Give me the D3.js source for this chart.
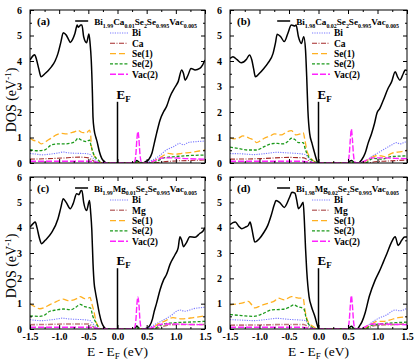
<!DOCTYPE html>
<html><head><meta charset="utf-8">
<script src="https://cdn.jsdelivr.net/npm/d3@7"></script>
<style>
html,body{margin:0;padding:0;background:#fff;}
svg{display:block;}
text{font-family:"Liberation Serif","Times New Roman",serif;}
</style></head>
<body>
<svg id="chart" width="416" height="359"></svg>
<script>
// ---------------- data ----------------
const xTickValues = [-1.5,-1.0,-0.5,0.0,0.5,1.0,1.5];
const xTickLabels = ["-1.5","-1.0","-0.5","0.0","0.5","1.0","1.5"];
const yTickValues = [0,1,2,3,4,5,6];
const yTickLabels = ["0","1","2","3","4","5","6"];
const panelLetters = ["(a)","(b)","(c)","(d)"];
const seriesNamesCa = ["Bi","Ca","Se(1)","Se(2)","Vac(2)"];
const seriesNamesMg = ["Bi","Mg","Se(1)","Se(2)","Vac(2)"];

// panel (a) Bi1.99Ca0.01
const totalA = [[-1.5,4.04],[-1.45,4.2],[-1.42,4.25],[-1.39,4.07],[-1.35,3.7],[-1.31,3.38],[-1.25,3.49],[-1.19,3.62],[-1.13,3.78],[-1.07,4.0],[-1.02,4.3],[-0.97,4.75],[-0.93,5.11],[-0.88,5.02],[-0.84,4.85],[-0.81,4.73],[-0.77,4.85],[-0.73,5.08],[-0.69,5.41],[-0.67,5.32],[-0.63,5.41],[-0.61,5.41],[-0.58,4.95],[-0.53,4.72],[-0.49,5.06],[-0.47,4.69],[-0.45,4.04],[-0.43,2.73],[-0.42,1.8],[-0.4,1.3],[-0.37,1.0],[-0.35,0.84],[-0.31,0.44],[-0.27,0.18],[-0.22,0.05],[-0.2,0],[0.28,0],[0.31,0.06],[0.33,0.1],[0.36,0.05],[0.39,0],[0.44,0],[0.48,0.05],[0.53,0.12],[0.59,0.38],[0.63,0.77],[0.67,1.16],[0.73,1.69],[0.79,2.01],[0.84,2.21],[0.9,2.6],[0.99,2.99],[1.04,3.19],[1.1,3.65],[1.13,3.52],[1.16,3.25],[1.21,3.45],[1.26,3.71],[1.33,3.65],[1.41,3.71],[1.46,3.85],[1.5,4.04]];
const biA = [[-1.5,0.37],[-1.4,0.35],[-1.3,0.32],[-1.15,0.35],[-1.0,0.4],[-0.93,0.43],[-0.85,0.4],[-0.7,0.38],[-0.55,0.37],[-0.47,0.33],[-0.42,0.2],[-0.35,0.07],[-0.28,0],[0.45,0],[0.53,0.05],[0.7,0.25],[0.84,0.51],[0.96,0.64],[1.07,0.77],[1.13,0.71],[1.21,0.8],[1.36,0.84],[1.5,0.86]];
const dopA = [[-1.5,0.15],[-1.2,0.17],[-0.9,0.2],[-0.65,0.23],[-0.5,0.2],[-0.42,0.1],[-0.35,0],[0.6,0],[0.75,0.04],[1.0,0.08],[1.25,0.1],[1.5,0.12]];
const se1A = [[-1.5,0.97],[-1.45,0.9],[-1.36,0.84],[-1.31,0.75],[-1.25,0.8],[-1.19,0.9],[-1.12,1.0],[-1.05,1.1],[-0.96,1.16],[-0.88,1.14],[-0.79,1.19],[-0.73,1.23],[-0.68,1.29],[-0.63,1.22],[-0.59,1.19],[-0.53,1.19],[-0.48,1.29],[-0.46,1.1],[-0.45,0.7],[-0.42,0.38],[-0.36,0.18],[-0.31,0.05],[-0.25,0],[0.5,0],[0.6,0.05],[0.68,0.15],[0.76,0.25],[0.87,0.38],[0.99,0.34],[1.1,0.38],[1.27,0.42],[1.4,0.47],[1.5,0.51]];
const se2A = [[-1.5,0.52],[-1.36,0.48],[-1.25,0.51],[-1.13,0.71],[-1.02,0.75],[-0.9,0.75],[-0.82,0.77],[-0.73,0.84],[-0.68,0.97],[-0.62,0.9],[-0.53,0.84],[-0.48,0.9],[-0.45,0.64],[-0.39,0.25],[-0.33,0.12],[-0.28,0],[0.28,0],[0.33,0.05],[0.38,0],[0.6,0],[0.7,0.1],[0.81,0.21],[0.99,0.25],[1.21,0.29],[1.5,0.31]];
const vacA = [[-1.5,0.07],[-0.5,0.07],[-0.4,0.05],[-0.3,0.01],[0.25,0],[0.29,0.04],[0.315,0.35],[0.333,0.95],[0.35,1.23],[0.367,0.95],[0.385,0.35],[0.41,0.04],[0.45,0],[0.55,0.02],[0.62,0.08],[0.7,0.15],[0.78,0.2],[0.95,0.2],[1.2,0.17],[1.5,0.15]];

// panel (b) Bi1.98Ca0.02
const totalB = [[-1.5,4.1],[-1.45,4.17],[-1.38,4.05],[-1.31,3.93],[-1.22,4.07],[-1.17,4.24],[-1.13,4.04],[-1.1,3.7],[-1.07,3.38],[-1.0,3.52],[-0.93,3.7],[-0.86,3.91],[-0.77,4.3],[-0.73,4.7],[-0.7,5.05],[-0.64,4.95],[-0.58,4.76],[-0.52,5.08],[-0.46,5.41],[-0.4,5.37],[-0.38,5.41],[-0.34,4.95],[-0.29,4.69],[-0.25,4.95],[-0.22,4.43],[-0.2,3.38],[-0.18,2.08],[-0.15,1.16],[-0.11,0.77],[-0.08,0.51],[-0.04,0.18],[-0.01,0],[0.5,0],[0.53,0.07],[0.56,0.1],[0.59,0.04],[0.62,0],[0.67,0],[0.73,0.12],[0.79,0.38],[0.84,0.77],[0.9,1.16],[0.95,1.56],[0.99,1.95],[1.04,2.14],[1.1,2.47],[1.18,2.93],[1.24,3.19],[1.3,3.58],[1.34,3.38],[1.38,3.25],[1.44,3.52],[1.47,3.65],[1.5,3.62]];
const biB = [[-1.5,0.37],[-1.3,0.36],[-1.1,0.33],[-0.9,0.37],[-0.7,0.42],[-0.55,0.4],[-0.4,0.38],[-0.22,0.33],[-0.17,0.2],[-0.08,0],[0.7,0],[0.79,0.05],[0.9,0.25],[1.01,0.4],[1.12,0.55],[1.24,0.71],[1.32,0.8],[1.38,0.75],[1.47,0.82],[1.5,0.84]];
const dopB = [[-1.5,0.15],[-1.0,0.17],[-0.5,0.22],[-0.25,0.2],[-0.17,0.1],[-0.1,0],[0.85,0],[0.95,0.05],[1.2,0.08],[1.5,0.12]];
const se1B = [[-1.5,0.99],[-1.43,0.95],[-1.36,0.97],[-1.28,1.06],[-1.17,0.97],[-1.1,0.9],[-1.05,0.8],[-0.98,0.88],[-0.92,0.97],[-0.83,1.05],[-0.74,1.14],[-0.63,1.1],[-0.55,1.2],[-0.46,1.27],[-0.38,1.1],[-0.3,1.15],[-0.26,1.19],[-0.23,0.9],[-0.2,0.51],[-0.15,0.25],[-0.08,0.08],[0,0],[0.7,0],[0.78,0.05],[0.84,0.12],[0.93,0.25],[1.01,0.3],[1.12,0.25],[1.24,0.38],[1.41,0.45],[1.5,0.5]];
const se2B = [[-1.5,0.62],[-1.36,0.57],[-1.2,0.51],[-1.05,0.51],[-0.92,0.64],[-0.81,0.75],[-0.7,0.77],[-0.6,0.75],[-0.52,0.84],[-0.46,0.97],[-0.4,0.92],[-0.34,0.8],[-0.26,0.8],[-0.22,0.51],[-0.17,0.25],[-0.09,0.08],[-0.02,0],[0.52,0],[0.56,0.06],[0.6,0],[0.8,0],[0.87,0.12],[0.93,0.18],[1.07,0.15],[1.24,0.25],[1.5,0.28]];
const vacB = [[-1.5,0.07],[-0.3,0.07],[-0.15,0.03],[-0.05,0],[0.48,0],[0.5,0.04],[0.522,0.35],[0.54,0.95],[0.557,1.33],[0.574,0.95],[0.592,0.35],[0.615,0.04],[0.65,0],[0.75,0.05],[0.82,0.12],[0.9,0.2],[1.1,0.2],[1.3,0.18],[1.5,0.17]];

// panel (c) Bi1.99Mg0.01
const totalC = [[-1.5,4.02],[-1.45,4.15],[-1.41,4.22],[-1.38,4.0],[-1.34,3.6],[-1.3,3.37],[-1.24,3.5],[-1.13,3.8],[-1.02,4.35],[-0.97,4.8],[-0.93,5.14],[-0.88,5.0],[-0.81,4.75],[-0.76,4.95],[-0.7,5.34],[-0.66,5.3],[-0.63,5.45],[-0.61,5.47],[-0.58,5.0],[-0.53,4.68],[-0.48,5.07],[-0.46,4.6],[-0.44,3.9],[-0.42,2.6],[-0.4,1.8],[-0.38,1.48],[-0.35,1.1],[-0.31,0.6],[-0.27,0.25],[-0.22,0.05],[-0.2,0],[0.28,0],[0.31,0.06],[0.33,0.12],[0.36,0.05],[0.39,0],[0.46,0],[0.5,0.03],[0.55,0.12],[0.6,0.4],[0.63,0.7],[0.67,1.02],[0.73,1.55],[0.79,1.94],[0.84,2.15],[0.9,2.55],[0.99,2.95],[1.04,3.2],[1.07,3.64],[1.1,3.5],[1.13,3.25],[1.18,3.4],[1.24,3.64],[1.33,3.62],[1.41,3.77],[1.46,3.85],[1.5,4.0]];
const biC = [[-1.5,0.37],[-1.3,0.33],[-1.15,0.36],[-1.0,0.41],[-0.95,0.43],[-0.85,0.4],[-0.7,0.38],[-0.55,0.36],[-0.47,0.33],[-0.42,0.2],[-0.35,0.06],[-0.28,0],[0.45,0],[0.53,0.05],[0.7,0.25],[0.9,0.5],[1.07,0.75],[1.15,0.7],[1.3,0.8],[1.5,0.86]];
const dopC = [[-1.5,0.17],[-1.2,0.18],[-0.8,0.2],[-0.5,0.2],[-0.42,0.1],[-0.35,0],[0.6,0],[0.75,0.08],[0.9,0.17],[1.2,0.18],[1.5,0.18]];
const se1C = [[-1.5,1.0],[-1.43,0.9],[-1.33,0.8],[-1.25,0.85],[-1.16,0.96],[-1.05,1.08],[-0.93,1.18],[-0.85,1.12],[-0.79,1.13],[-0.7,1.2],[-0.64,1.28],[-0.56,1.2],[-0.5,1.22],[-0.47,1.25],[-0.44,1.0],[-0.41,0.75],[-0.36,0.24],[-0.3,0.05],[-0.27,0],[0.5,0],[0.6,0.05],[0.7,0.2],[0.8,0.3],[0.95,0.45],[1.1,0.4],[1.3,0.45],[1.5,0.52]];
const se2C = [[-1.5,0.52],[-1.33,0.5],[-1.25,0.55],[-1.16,0.7],[-1.05,0.75],[-0.93,0.79],[-0.8,0.76],[-0.72,0.85],[-0.64,0.97],[-0.56,0.88],[-0.5,0.85],[-0.46,0.83],[-0.43,0.55],[-0.38,0.3],[-0.33,0.08],[-0.3,0],[0.28,0],[0.33,0.05],[0.38,0],[0.62,0],[0.7,0.1],[0.8,0.2],[1.0,0.25],[1.3,0.28],[1.5,0.3]];
const vacC = [[-1.5,0.07],[-0.5,0.07],[-0.4,0.05],[-0.3,0.01],[0.25,0],[0.29,0.04],[0.315,0.35],[0.333,0.98],[0.35,1.27],[0.367,0.98],[0.385,0.35],[0.41,0.04],[0.45,0],[0.55,0.02],[0.62,0.08],[0.7,0.15],[0.8,0.2],[0.95,0.2],[1.2,0.18],[1.5,0.17]];

// panel (d) Bi1.98Mg0.02
const totalD = [[-1.5,4.12],[-1.45,4.2],[-1.41,4.22],[-1.35,4.05],[-1.3,3.96],[-1.24,4.02],[-1.19,4.09],[-1.16,4.22],[-1.13,3.96],[-1.1,3.6],[-1.08,3.43],[-1.0,3.57],[-0.93,3.8],[-0.86,4.09],[-0.8,4.5],[-0.75,4.9],[-0.72,5.07],[-0.66,5.0],[-0.58,4.8],[-0.49,5.2],[-0.45,5.4],[-0.4,5.36],[-0.37,5.1],[-0.34,4.75],[-0.3,4.85],[-0.26,5.0],[-0.24,4.29],[-0.22,3.2],[-0.2,2.32],[-0.16,1.28],[-0.12,0.89],[-0.06,0.48],[-0.02,0.15],[0,0.02],[0.01,0],[0.5,0],[0.53,0.07],[0.56,0.11],[0.59,0.04],[0.62,0],[0.66,0],[0.69,0.1],[0.74,0.3],[0.79,0.63],[0.86,1.28],[0.96,1.93],[1.04,2.32],[1.1,2.65],[1.16,2.98],[1.24,3.44],[1.3,3.64],[1.35,3.3],[1.41,3.5],[1.46,3.63],[1.5,3.63]];
const biD = [[-1.5,0.37],[-1.3,0.35],[-1.1,0.33],[-0.9,0.37],[-0.7,0.42],[-0.5,0.38],[-0.35,0.36],[-0.22,0.33],[-0.17,0.2],[-0.1,0],[0.7,0],[0.78,0.05],[0.9,0.25],[1.0,0.4],[1.15,0.55],[1.3,0.75],[1.38,0.72],[1.5,0.82]];
const dopD = [[-1.5,0.15],[-1.0,0.16],[-0.5,0.18],[-0.25,0.18],[-0.17,0.08],[-0.1,0],[0.8,0],[0.9,0.1],[1.0,0.15],[1.3,0.18],[1.5,0.2]];
const se1D = [[-1.5,0.95],[-1.4,0.98],[-1.3,1.02],[-1.19,1.09],[-1.13,0.95],[-1.08,0.83],[-0.98,0.92],[-0.85,1.02],[-0.75,1.1],[-0.68,1.22],[-0.58,1.15],[-0.46,1.28],[-0.4,1.25],[-0.34,1.22],[-0.26,1.22],[-0.23,0.76],[-0.18,0.3],[-0.09,0.1],[0,0],[0.7,0],[0.8,0.05],[0.9,0.2],[1.0,0.3],[1.1,0.3],[1.2,0.35],[1.35,0.45],[1.5,0.48]];
const se2D = [[-1.5,0.57],[-1.3,0.53],[-1.1,0.5],[-0.95,0.6],[-0.8,0.75],[-0.6,0.78],[-0.5,0.85],[-0.42,0.95],[-0.35,0.88],[-0.3,0.85],[-0.25,0.8],[-0.21,0.45],[-0.17,0.2],[-0.1,0.05],[-0.05,0],[0.52,0],[0.56,0.06],[0.6,0],[0.78,0],[0.9,0.15],[1.05,0.2],[1.3,0.25],[1.5,0.27]];
const vacD = [[-1.5,0.07],[-0.3,0.07],[-0.15,0.03],[-0.05,0],[0.48,0],[0.5,0.04],[0.522,0.35],[0.54,0.95],[0.557,1.32],[0.574,0.95],[0.592,0.35],[0.615,0.04],[0.65,0],[0.75,0.05],[0.82,0.12],[0.9,0.2],[1.1,0.2],[1.3,0.18],[1.5,0.17]];

// ---------------- drawing ----------------
const svg = d3.select("#chart");
const styles = [
  {color:"#000000", dash:null, w:1.5},          // total
  {color:"#7a7aff", dash:"1.2,1.2", w:1.1},     // Bi
  {color:"#a52a2a", dash:"5,1.5,1,1.5", w:1.1}, // Ca / Mg
  {color:"#ffb020", dash:"6,3", w:1.3},         // Se(1)
  {color:"#1c9a1c", dash:"3,1.8", w:1.3},       // Se(2)
  {color:"#ff22ff", dash:"6,2", w:1.4}          // Vac(2)
];
const mgColor = "#c07878";

const panels = [
  {x0:30, x1:205, y0:10, y1:163, letter:panelLetters[0], dop:"Ca", dx:"1.99", dd:"0.01", names:seriesNamesCa,
   series:[totalA,biA,dopA,se1A,se2A,vacA], xlabels:false},
  {x0:230, x1:407, y0:10, y1:163, letter:panelLetters[1], dop:"Ca", dx:"1.98", dd:"0.02", names:seriesNamesCa,
   series:[totalB,biB,dopB,se1B,se2B,vacB], xlabels:false},
  {x0:30, x1:205, y0:177, y1:329, letter:panelLetters[2], dop:"Mg", dx:"1.99", dd:"0.01", names:seriesNamesMg,
   series:[totalC,biC,dopC,se1C,se2C,vacC], xlabels:true},
  {x0:230, x1:407, y0:177, y1:329, letter:panelLetters[3], dop:"Mg", dx:"1.98", dd:"0.02", names:seriesNamesMg,
   series:[totalD,biD,dopD,se1D,se2D,vacD], xlabels:true}
];

panels.forEach(p => {
  const x = d3.scaleLinear().domain([-1.5,1.5]).range([p.x0,p.x1]);
  const y = d3.scaleLinear().domain([0,6]).range([p.y1,p.y0]);
  const g = svg.append("g");
  const clipId = "clip" + p.letter.replace(/[()]/g,"");
  svg.append("clipPath").attr("id",clipId).append("rect")
    .attr("x",p.x0).attr("y",p.y0).attr("width",p.x1-p.x0).attr("height",p.y1-p.y0);

  const line = d3.line().x(d=>x(d[0])).y(d=>y(d[1])).curve(d3.curveMonotoneX);
  const plot = g.append("g").attr("clip-path",`url(#${clipId})`);
  p.series.forEach((s,i) => {
    const st = styles[i];
    const col = (i===2 && p.dop==="Mg") ? mgColor : st.color;
    plot.append("path").datum(s).attr("d",line).attr("fill","none")
      .attr("stroke",col).attr("stroke-width", (i===2 && p.dop==="Mg") ? 1.6 : st.w)
      .attr("stroke-dasharray",st.dash).attr("stroke-linejoin","round");
  });

  // E_F marker
  g.append("line").attr("x1",x(0)).attr("x2",x(0)).attr("y1",y(0)).attr("y2",y(2.4))
    .attr("stroke","#000").attr("stroke-width",1.5);
  const ef = g.append("text").attr("x",x(0)-1).attr("y",y(2.52))
    .attr("font-size",13).attr("font-weight","bold");
  ef.append("tspan").text("E");
  ef.append("tspan").attr("font-size",9).attr("dy",3).text("F");

  // axes
  const fmtY = d => yTickLabels[yTickValues.indexOf(d)];
  const fmtX = d => xTickLabels[xTickValues.indexOf(d)];
  const minorY = d3.range(0.5,6,1);
  const minorX = d3.range(-1.25,1.5,0.5);
  const styleAxis = sel => {
    sel.select(".domain").remove();
    sel.selectAll("line").attr("stroke","#000").attr("stroke-width",1);
    sel.selectAll("text").attr("font-family","'Liberation Serif',serif")
      .attr("font-weight","bold").attr("font-size",10).attr("fill","#000");
  };
  g.append("g").attr("transform",`translate(${p.x0},0)`)
    .call(d3.axisLeft(y).tickValues(yTickValues).tickSize(-4).tickPadding(8).tickFormat(fmtY)).call(styleAxis);
  g.append("g").attr("transform",`translate(${p.x0},0)`)
    .call(d3.axisLeft(y).tickValues(minorY).tickSize(-2).tickFormat("")).call(styleAxis);
  g.append("g").attr("transform",`translate(${p.x1},0)`)
    .call(d3.axisRight(y).tickValues(yTickValues).tickSize(-4).tickFormat("")).call(styleAxis);
  g.append("g").attr("transform",`translate(${p.x1},0)`)
    .call(d3.axisRight(y).tickValues(minorY).tickSize(-2).tickFormat("")).call(styleAxis);
  g.append("g").attr("transform",`translate(0,${p.y1})`)
    .call(d3.axisBottom(x).tickValues(xTickValues).tickSize(-4).tickPadding(3.5).tickFormat(p.xlabels?fmtX:"")).call(styleAxis);
  g.append("g").attr("transform",`translate(0,${p.y1})`)
    .call(d3.axisBottom(x).tickValues(minorX).tickSize(-2).tickFormat("")).call(styleAxis);
  g.append("g").attr("transform",`translate(0,${p.y0})`)
    .call(d3.axisTop(x).tickValues(xTickValues).tickSize(-4).tickFormat("")).call(styleAxis);
  g.append("g").attr("transform",`translate(0,${p.y0})`)
    .call(d3.axisTop(x).tickValues(minorX).tickSize(-2).tickFormat("")).call(styleAxis);
  g.append("rect").attr("x",p.x0).attr("y",p.y0).attr("width",p.x1-p.x0).attr("height",p.y1-p.y0)
    .attr("fill","none").attr("stroke","#000").attr("stroke-width",1);

  // panel letter
  g.append("text").attr("x",p.x0+7).attr("y",p.y0+15).attr("font-size",11)
    .attr("font-weight","bold").text(p.letter);

  // legend title (fit to the width seen in the reference)
  const mainFs = 9.3, subFs = 6.0;
  const t = g.append("text").attr("x",p.x1-8).attr("y",p.y0+15).attr("text-anchor","end")
    .attr("font-weight","bold");
  const parts = [["Bi",false],[p.dx,true],[p.dop,false],[p.dd,true],["Se",false],["2",true],["Se",false],["0.995",true],["Vac",false],["0.005",true]];
  let sub = false;
  parts.forEach(([s,isSub]) => {
    const ts = t.append("tspan").text(s).attr("font-size", isSub ? subFs : mainFs).attr("class", isSub?"sb":"mn");
    if (isSub && !sub) { ts.attr("dy",2.5); sub = true; }
    else if (!isSub && sub) { ts.attr("dy",-2.5); sub = false; }
  });
  let tw = t.node().getComputedTextLength();
  const target = 103;
  if (tw > target) {
    const k = target / tw;
    t.selectAll("tspan.mn").attr("font-size", mainFs*k);
    t.selectAll("tspan.sb").attr("font-size", subFs*k);
    tw = t.node().getComputedTextLength();
  }
  const tStart = p.x1 - 8 - tw;
  g.append("line").attr("x1",tStart-19).attr("x2",tStart-6).attr("y1",p.y0+11).attr("y2",p.y0+11)
    .attr("stroke","#000").attr("stroke-width",1.5);

  // legend entries
  p.names.forEach((nm,i) => {
    const st = styles[i+1];
    const col = (i===1 && p.dop==="Mg") ? mgColor : st.color;
    const ly = p.y0 + 23 + i*10.3;
    g.append("line").attr("x1",p.x1-95).attr("x2",p.x1-77).attr("y1",ly).attr("y2",ly)
      .attr("stroke",col).attr("stroke-width",(i===1 && p.dop==="Mg") ? 1.6 : st.w).attr("stroke-dasharray",st.dash);
    g.append("text").attr("x",p.x1-73).attr("y",ly+3.3).attr("font-size",9.5)
      .attr("font-weight","bold").text(nm);
  });
});

// axis titles
[100, 266].forEach(cy => {
  const t = svg.append("text").attr("transform",`translate(15.5,${cy}) rotate(-90)`)
    .attr("text-anchor","middle").attr("font-size",14);
  t.append("tspan").text("DOS (eV");
  t.append("tspan").attr("font-size",9).attr("dy",-5).text("-1");
  t.append("tspan").attr("dy",5).text(")");
});
[117.5, 318.5].forEach(cx => {
  const t = svg.append("text").attr("x",cx).attr("y",355.5).attr("text-anchor","middle").attr("font-size",13.5);
  t.append("tspan").text("E - E");
  t.append("tspan").attr("font-size",9).attr("dy",3).text("F");
  t.append("tspan").attr("dy",-3).text(" (eV)");
});
</script>
</body></html>
